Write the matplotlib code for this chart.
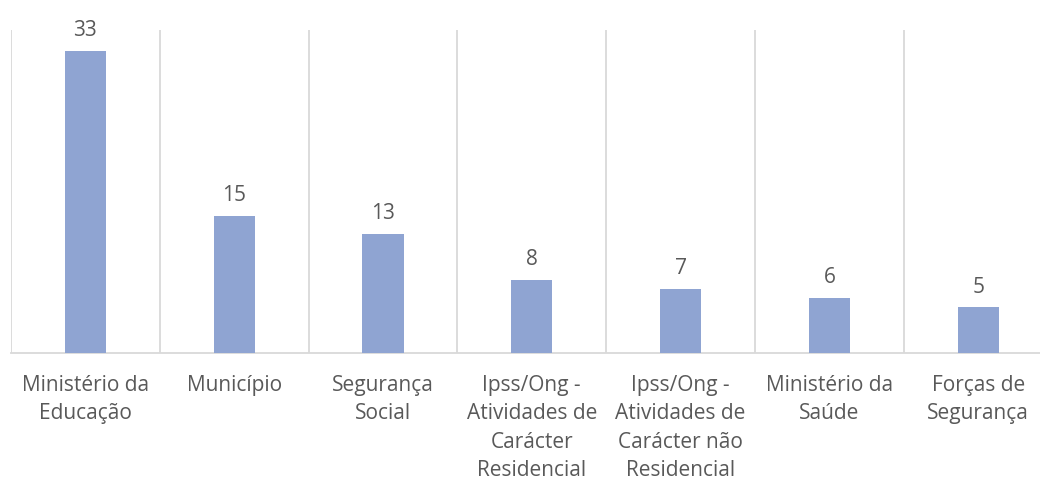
import matplotlib.pyplot as plt
import numpy as np

# dados
categorias = ['Ministério da\nEducação', 'Município', 'Segurança\nSocial',
              'Ipss/Ong -\nAtividades de\nCarácter\nResidencial',
              'Ipss/Ong -\nAtividades de\nCarácter não\nResidencial',
              'Ministério da\nSaúde', 'Forças de\nSegurança']
valores = [33, 15, 13, 8, 7, 6, 5]

cor_barra = '#8FA4D2'
cor_texto = '#595959'
cor_grelha = '#D9D9D9'

plt.rcParams['font.family'] = ['Open Sans', 'DejaVu Sans']

fig = plt.figure(figsize=(10.4, 4.82), dpi=100)
ax = fig.add_axes([11/1040, 129/482, 7*148.8/1040, 323/482])

x = np.arange(len(valores))
ax.bar(x, valores, width=0.276, color=cor_barra, zorder=3)

for xi, v in zip(x, valores):
    ax.annotate(str(v), (xi, v), xytext=(0, 7), textcoords='offset points',
                ha='center', va='bottom', fontsize=15, color=cor_texto)

# linhas verticais entre categorias
for g in np.arange(len(valores) + 1) - 0.5:
    ax.axvline(g, color=cor_grelha, lw=1.3, zorder=1)

ax.set_xlim(-0.5, len(valores) - 0.5)
ax.set_ylim(0, 35.3)
ax.set_yticks([])
ax.set_xticks(x)
ax.set_xticklabels(categorias, fontsize=15, color=cor_texto, linespacing=1.45)
ax.tick_params(axis='x', length=0, pad=16)
for s in ['top', 'right', 'left']:
    ax.spines[s].set_visible(False)
ax.spines['bottom'].set_color(cor_grelha)
ax.spines['bottom'].set_linewidth(1.3)

fig.savefig('out.png', dpi=100)
